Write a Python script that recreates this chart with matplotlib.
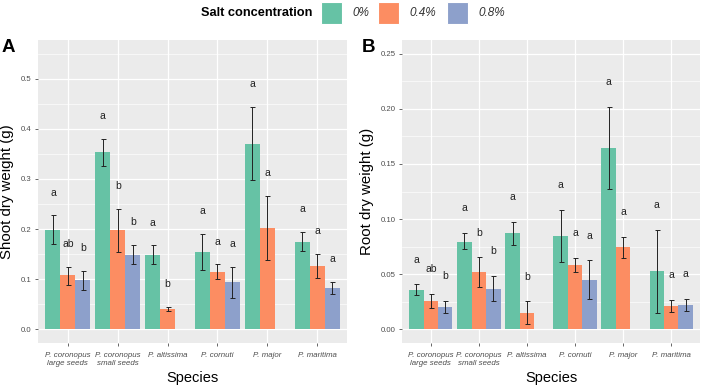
import numpy as np
import matplotlib
matplotlib.use("Agg")
import matplotlib.pyplot as plt
from matplotlib.patches import Rectangle

plt.rcParams['font.family'] = ['Liberation Sans', 'DejaVu Sans']

species = ["P. coronopus\nlarge seeds", "P. coronopus\nsmall seeds", "P. altissima",
           "P. cornuti", "P. major", "P. maritima"]
concs = ["0%", "0.4%", "0.8%"]
colors = ["#66C2A5", "#FC8D62", "#8DA0CB"]

# Shoot dry weight (g): mean, lower, upper per concentration (nan = missing)
shoot_mean = [
    [0.199, 0.353, 0.149, 0.155, 0.370, 0.175],
    [0.108, 0.198, 0.040, 0.115, 0.202, 0.127],
    [0.098, 0.149, np.nan, 0.094, np.nan, 0.082],
]
shoot_lo = [
    [0.171, 0.325, 0.131, 0.118, 0.297, 0.157],
    [0.088, 0.155, 0.0365, 0.100, 0.139, 0.102],
    [0.078, 0.131, np.nan, 0.062, np.nan, 0.070],
]
shoot_hi = [
    [0.228, 0.380, 0.168, 0.191, 0.444, 0.195],
    [0.125, 0.241, 0.045, 0.130, 0.266, 0.151],
    [0.117, 0.169, np.nan, 0.125, np.nan, 0.095],
]
shoot_letters = [
    ["a", "a", "a", "a", "a", "a"],
    ["ab", "b", "b", "a", "a", "a"],
    ["b", "b", "", "a", "", "a"],
]

# Root dry weight (g)
root_mean = [
    [0.0359, 0.0796, 0.0872, 0.0844, 0.1647, 0.0525],
    [0.0256, 0.0516, 0.0151, 0.0579, 0.0745, 0.0214],
    [0.0205, 0.0368, np.nan, 0.0446, np.nan, 0.0220],
]
root_lo = [
    [0.0310, 0.0724, 0.0766, 0.0609, 0.1270, 0.0151],
    [0.0193, 0.0383, 0.0045, 0.0516, 0.0648, 0.0160],
    [0.0150, 0.0256, np.nan, 0.0271, np.nan, 0.0166],
]
root_hi = [
    [0.0407, 0.0872, 0.0977, 0.1086, 0.2017, 0.0899],
    [0.0320, 0.0651, 0.0253, 0.0645, 0.0838, 0.0268],
    [0.0256, 0.0483, np.nan, 0.0624, np.nan, 0.0274],
]
root_letters = [
    ["a", "a", "a", "a", "a", "a"],
    ["ab", "b", "b", "a", "a", "a"],
    ["b", "b", "", "a", "", "a"],
]

W, H = 709, 386
fig = plt.figure(figsize=(W / 100, H / 100), dpi=100)


def px_axes(x0, y0, x1, y1):
    return fig.add_axes([x0 / W, 1 - y1 / H, (x1 - x0) / W, (y1 - y0) / H])


def draw_panel(ax, means, los, his, letters, ylim, major, minor, fmt, ylabel, offset):
    ax.set_facecolor("#EBEBEB")
    for s in ax.spines.values():
        s.set_visible(False)
    x = np.arange(len(species))
    bw = 0.3
    for i in range(3):
        m = np.array(means[i], dtype=float)
        lo = np.array(los[i], dtype=float)
        hi = np.array(his[i], dtype=float)
        xs = x + (i - 1) * bw
        ok = ~np.isnan(m)
        ax.bar(xs[ok], m[ok], width=bw, color=colors[i], zorder=3, linewidth=0)
        ax.errorbar(xs[ok], m[ok], yerr=[m[ok] - lo[ok], hi[ok] - m[ok]], fmt="none",
                    ecolor="#222222", elinewidth=0.7, capsize=1.8, capthick=0.7, zorder=4)
        for j in np.where(ok)[0]:
            if letters[i][j]:
                ax.text(xs[j], hi[j] + offset, letters[i][j], ha="center", va="center",
                        fontsize=7.5, color="#222222", zorder=5)
    ax.set_xlim(-0.6, len(species) - 0.4)
    ax.set_ylim(*ylim)
    ax.set_yticks(major)
    ax.set_yticks(minor, minor=True)
    ax.set_yticklabels([fmt.format(v) for v in major])
    ax.set_xticks(x)
    ax.set_xticklabels(species, fontstyle="italic", fontsize=5.7, color="#4D4D4D", linespacing=1.1)
    ax.tick_params(axis="y", labelsize=5.6, labelcolor="#4D4D4D", color="#4D4D4D", length=2.5, width=0.6, pad=2)
    ax.tick_params(axis="x", color="#4D4D4D", length=2.5, width=0.6, pad=4)
    ax.tick_params(axis="y", which="minor", length=0)
    ax.grid(True, which="major", color="white", linewidth=0.9, zorder=0)
    ax.grid(True, which="minor", axis="y", color="white", linewidth=0.45, zorder=0)
    ax.set_axisbelow(True)
    ax.set_xlabel("Species", fontsize=10.5, labelpad=3)
    ax.set_ylabel(ylabel, fontsize=10.8, labelpad=5)


axA = px_axes(38, 40, 347, 343)
draw_panel(axA, shoot_mean, shoot_lo, shoot_hi, shoot_letters, (-0.0275, 0.5775),
           [0.0, 0.1, 0.2, 0.3, 0.4, 0.5], [0.05, 0.15, 0.25, 0.35, 0.45, 0.55],
           "{:.1f}", "Shoot dry weight (g)", 0.045)
axB = px_axes(402, 40, 700, 343)
draw_panel(axB, root_mean, root_lo, root_hi, root_letters, (-0.0125, 0.2625),
           [0.0, 0.05, 0.10, 0.15, 0.20, 0.25], [0.025, 0.075, 0.125, 0.175, 0.225],
           "{:.2f}", "Root dry weight (g)", 0.0225)

fig.text(2 / W, 1 - 47 / H, "A", fontsize=13.5, fontweight="bold", ha="left", va="center")
fig.text(362 / W, 1 - 48 / H, "B", fontsize=13.5, fontweight="bold", ha="left", va="center")

# Legend (top)
fig.text(312 / W, 1 - 13 / H, "Salt concentration", fontsize=9.2, fontweight="bold",
         ha="right", va="center")
box_x = [321, 378, 447]
for bx, c, lab in zip(box_x, colors, concs):
    fig.add_artist(Rectangle((bx / W, 1 - 24 / H), 21 / W, 22 / H, transform=fig.transFigure,
                             facecolor=c, edgecolor="white", linewidth=0.8))
    fig.text((bx + 31) / W, 1 - 13 / H, lab, fontsize=8.5, fontstyle="italic",
             color="#333333", ha="left", va="center")

fig.savefig("out.png", dpi=100)
